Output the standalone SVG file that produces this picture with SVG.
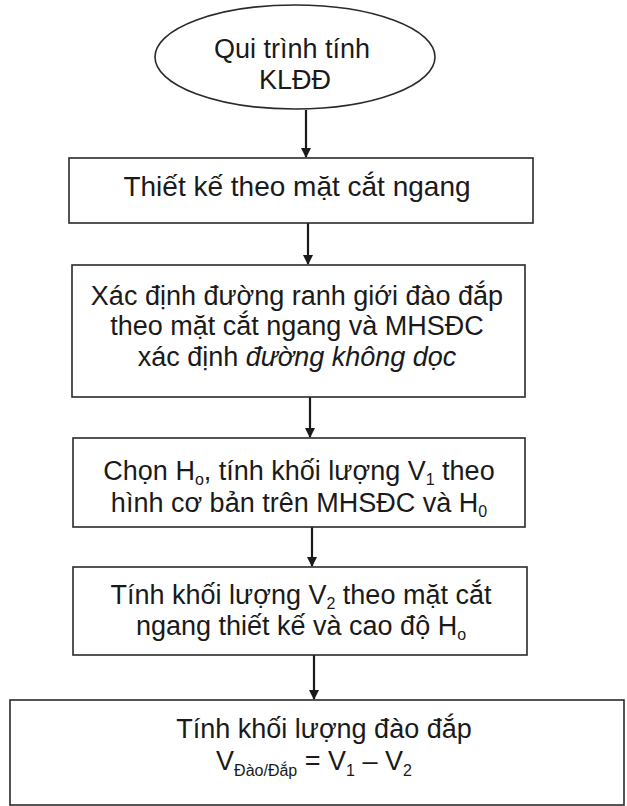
<svg xmlns="http://www.w3.org/2000/svg" width="627" height="806" viewBox="0 0 627 806">
<style>
.n{fill:#fff;stroke:#2a2a2a;stroke-width:1.6}
.t{font-family:"Liberation Sans",Arial,sans-serif;font-size:27px;fill:#1a1a1a;text-anchor:middle}
.s{font-size:16px}
.c line{stroke:#1a1a1a;stroke-width:2.2}
</style>
<defs>
<marker id="ah" markerWidth="10" markerHeight="10" refX="9" refY="5" orient="auto" markerUnits="userSpaceOnUse" viewBox="0 0 10 10">
<path d="M0,0 L10,5 L0,10 z" fill="#1a1a1a"/>
</marker>
</defs>
<rect width="627" height="806" fill="#fff"/>
<g class="c" id="connectors">
<line x1="306" y1="110" x2="306" y2="157" marker-end="url(#ah)"/>
<line x1="308" y1="223" x2="308" y2="264" marker-end="url(#ah)"/>
<line x1="310" y1="397" x2="310" y2="437" marker-end="url(#ah)"/>
<line x1="312" y1="527" x2="312" y2="566" marker-end="url(#ah)"/>
<line x1="314" y1="655" x2="314" y2="699" marker-end="url(#ah)"/>
</g>
<g id="start">
<ellipse class="n" cx="295" cy="57" rx="140" ry="52"/>
<text class="t" x="292" y="58" font-size="28">Qui trình tính</text>
<text class="t" x="295" y="89" font-size="28">KLĐĐ</text>
</g>
<g id="step1">
<rect class="n" x="69" y="158" width="464" height="65"/>
<text class="t" x="297" y="196" style="font-size:28px">Thiết kế theo mặt cắt ngang</text>
</g>
<g id="step2">
<rect class="n" x="72" y="265" width="453" height="132"/>
<text class="t" x="297" y="305">Xác định đường ranh giới đào đắp</text>
<text class="t" x="297" y="335">theo mặt cắt ngang và MHSĐC</text>
<text class="t" x="297" y="366">xác định <tspan font-style="italic">đường không dọc</tspan></text>
</g>
<g id="step3">
<rect class="n" x="73" y="438" width="452" height="89"/>
<text class="t" x="299" y="480">Chọn H<tspan class="s" dy="5">o</tspan><tspan dy="-5">, tính khối lượng V</tspan><tspan class="s" dy="5">1</tspan><tspan dy="-5"> theo</tspan></text>
<text class="t" x="299" y="512">hình cơ bản trên MHSĐC và H<tspan class="s" dy="5">0</tspan></text>
</g>
<g id="step4">
<rect class="n" x="73" y="567" width="454" height="88"/>
<text class="t" x="301" y="604">Tính khối lượng V<tspan class="s" dy="5">2</tspan><tspan dy="-5"> theo mặt cắt</tspan></text>
<text class="t" x="301" y="635">ngang thiết kế và cao độ H<tspan class="s" dy="5">o</tspan></text>
</g>
<g id="step5">
<rect class="n" x="10" y="700" width="614" height="105"/>
<text class="t" x="324" y="738">Tính khối lượng đào đắp</text>
<text class="t" x="314" y="770">V<tspan class="s" dy="6">Đào/Đắp</tspan><tspan dy="-6"> = V</tspan><tspan class="s" dy="6">1</tspan><tspan dy="-6"> – V</tspan><tspan class="s" dy="6">2</tspan></text>
</g>
</svg>
